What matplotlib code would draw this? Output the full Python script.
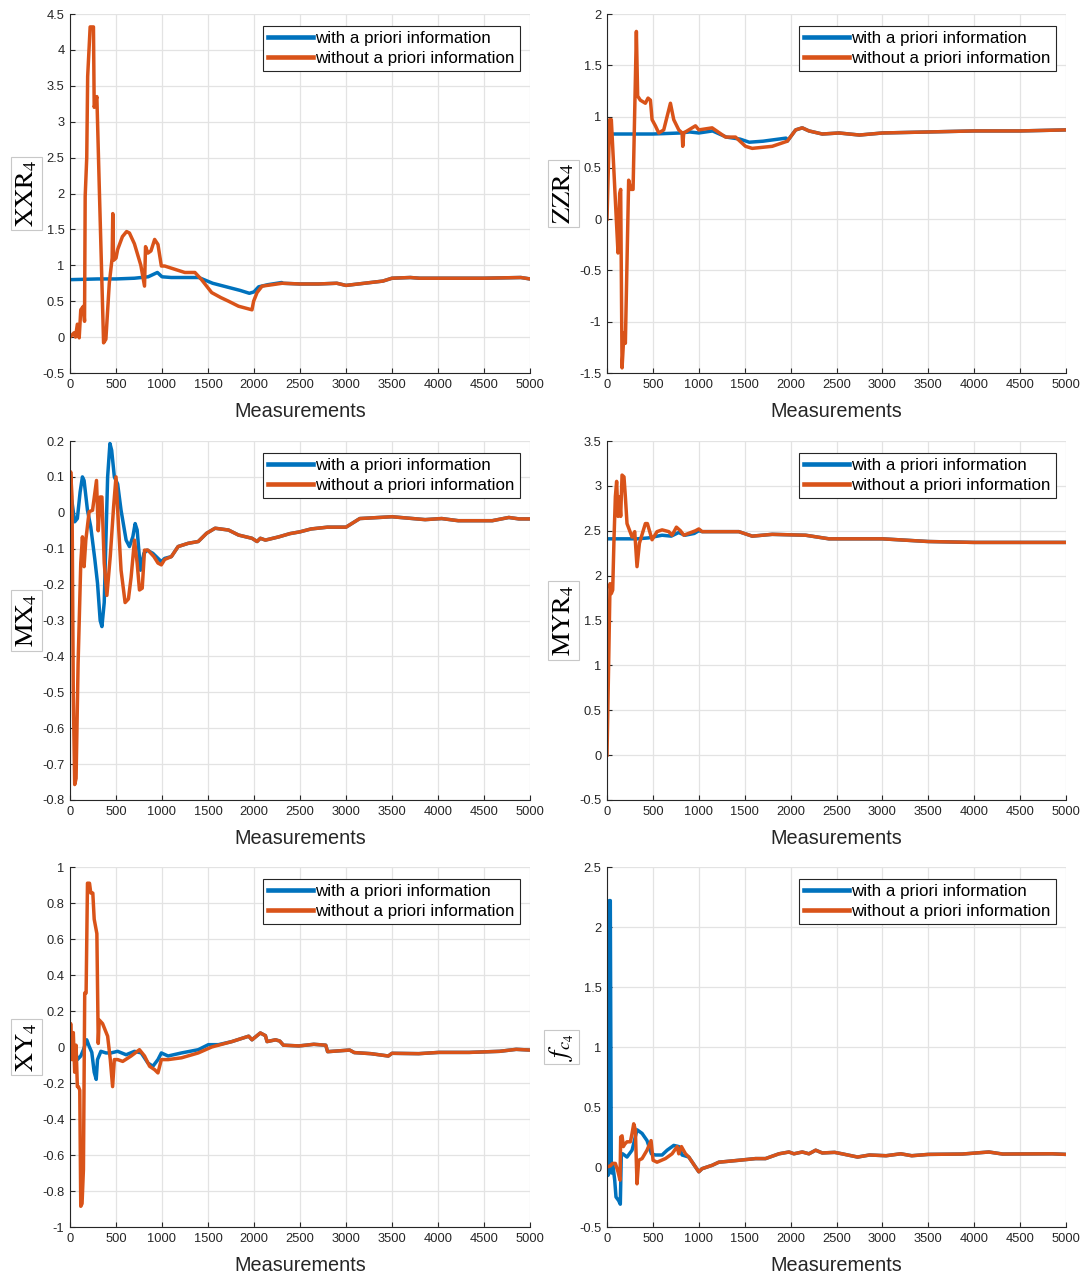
import matplotlib
matplotlib.use("Agg")
import matplotlib.pyplot as plt
from matplotlib.ticker import FuncFormatter, MultipleLocator

# estimated parameters vs. number of measurements, with / without a priori information.
# the "with" lists hold only the part before both estimates converge; after that
# the two curves coincide and the "with" curve continues along the "without" one.

XXR_X_WITH = [0, 300, 500, 700, 850, 950, 1000, 1100, 1400, 1550, 1700, 1850, 1950, 2000, 2050,
              2150, 2300]
XXR_Y_WITH = [0.8, 0.81, 0.81, 0.82, 0.84, 0.9, 0.84, 0.83, 0.83, 0.75, 0.7, 0.65, 0.61, 0.63, 0.7,
              0.73, 0.76]
XXR_X_WITHOUT = [0, 44, 60, 80, 100, 117, 146, 158, 165, 182, 192, 219, 255, 263, 292, 318, 365, 390,
                 427, 458, 465, 474, 500, 518, 570, 615, 646, 700, 770, 810, 821, 847, 880, 920, 956,
                 993, 1029, 1150, 1248, 1358, 1430, 1540, 1640, 1723, 1832, 1978, 1996, 2033, 2088,
                 2200, 2307, 2500, 2700, 2900, 3000, 3200, 3400, 3500, 3700, 3800, 4000, 4500, 4900, 5000]
XXR_Y_WITHOUT = [0, 0.06, 0.0, 0.18, -0.01, 0.38, 0.43, 0.22, 1.96, 2.5, 3.63, 4.32, 4.32, 3.2, 3.35,
                 2.1, -0.08, -0.03, 0.75, 1.1, 1.72, 1.07, 1.1, 1.22, 1.4, 1.47, 1.45, 1.3, 1.0, 0.71,
                 1.26, 1.17, 1.2, 1.36, 1.29, 0.99, 0.99, 0.94, 0.9, 0.9, 0.8, 0.62, 0.55, 0.5, 0.43,
                 0.38, 0.5, 0.62, 0.71, 0.73, 0.75, 0.74, 0.74, 0.75, 0.72, 0.75, 0.78, 0.82, 0.83,
                 0.82, 0.82, 0.82, 0.83, 0.81]

ZZR_X_WITH = [0, 500, 800, 900, 1000, 1150, 1300, 1450, 1550, 1700, 1950]
ZZR_Y_WITH = [0.83, 0.83, 0.84, 0.85, 0.84, 0.86, 0.8, 0.78, 0.75, 0.76, 0.79]
ZZR_X_WITHOUT = [0, 29, 47, 73, 98, 120, 138, 149, 164, 185, 200, 236, 258, 284, 320, 334, 363, 418,
                 447, 473, 491, 527, 564, 618, 691, 727, 782, 818, 825, 836, 964, 1000, 1145, 1291,
                 1400, 1509, 1582, 1800, 1964, 2055, 2127, 2200, 2345, 2527, 2750, 3000, 3500, 4000,
                 4500, 5000]
ZZR_Y_WITHOUT = [0, 0.97, 0.97, 0.51, 0.06, -0.33, 0.25, 0.29, -1.45, -1.11, -1.21, 0.38, 0.29, 0.29,
                 1.83, 1.2, 1.16, 1.13, 1.18, 1.16, 0.97, 0.91, 0.84, 0.87, 1.13, 0.97, 0.87, 0.84,
                 0.71, 0.84, 0.91, 0.87, 0.89, 0.8, 0.8, 0.71, 0.69, 0.71, 0.76, 0.87, 0.89, 0.86,
                 0.83, 0.84, 0.82, 0.84, 0.85, 0.86, 0.86, 0.87]

MX_X_WITH = [0, 7, 22, 51, 80, 110, 135, 153, 190, 226, 270, 299, 328, 347, 372, 409, 434, 453, 482,
             518, 555, 610, 646, 683, 708, 730, 766, 803, 839, 901, 993, 1029]
MX_Y_WITH = [0.0, 0.05, 0.03, -0.025, -0.016, 0.058, 0.1, 0.09, 0.007, -0.04, -0.13, -0.196, -0.3,
             -0.317, -0.25, 0.1, 0.193, 0.174, 0.1, 0.08, 0.007, -0.076, -0.094, -0.067, -0.03,
             -0.048, -0.16, -0.113, -0.104, -0.113, -0.136, -0.127]
MX_X_WITHOUT = [0, 7, 22, 36, 51, 66, 88, 117, 135, 153, 172, 208, 245, 288, 307, 328, 347, 372, 401,
                438, 474, 500, 526, 555, 599, 635, 664, 701, 730, 755, 785, 810, 847, 912, 956, 993,
                1029, 1102, 1175, 1285, 1394, 1485, 1577, 1723, 1832, 1978, 2033, 2069, 2124, 2270,
                2390, 2500, 2620, 2800, 3000, 3150, 3500, 3860, 4040, 4220, 4590, 4770, 4880, 5000]
MX_Y_WITHOUT = [0, 0.114, 0.044, -0.51, -0.757, -0.74, -0.42, -0.14, -0.067, -0.15, -0.076, 0.003,
                0.007, 0.09, -0.05, 0.044, 0.044, -0.14, -0.23, -0.12, 0.017, 0.1, -0.03, -0.16,
                -0.25, -0.24, -0.18, -0.076, -0.14, -0.215, -0.21, -0.104, -0.104, -0.122, -0.14,
                -0.145, -0.13, -0.122, -0.094, -0.085, -0.08, -0.057, -0.043, -0.048, -0.062, -0.071,
                -0.08, -0.071, -0.076, -0.067, -0.058, -0.053, -0.045, -0.04, -0.04, -0.016, -0.011,
                -0.019, -0.016, -0.022, -0.022, -0.013, -0.017, -0.017]

MYR_X_WITH = [0, 330, 450, 600, 700, 780, 850, 950, 1000]
MYR_Y_WITH = [2.41, 2.41, 2.42, 2.45, 2.44, 2.48, 2.45, 2.47, 2.5]
MYR_X_WITHOUT = [0, 18, 33, 47, 62, 76, 91, 105, 120, 135, 149, 164, 185, 200, 218, 273, 302, 327,
                 353, 418, 440, 491, 545, 600, 673, 709, 756, 800, 836, 964, 1000, 1036, 1436, 1582,
                 1800, 2164, 2418, 3000, 3500, 4000, 5000]
MYR_Y_WITHOUT = [0, 1.02, 1.91, 1.8, 1.84, 2.4, 2.88, 3.05, 2.66, 2.88, 2.66, 3.12, 3.1, 2.88, 2.58,
                 2.43, 2.49, 2.1, 2.36, 2.58, 2.58, 2.4, 2.49, 2.51, 2.49, 2.45, 2.54, 2.5, 2.45, 2.5,
                 2.52, 2.49, 2.49, 2.44, 2.46, 2.45, 2.41, 2.41, 2.38, 2.37, 2.37]

XY_X_WITH = [0, 26, 62, 80, 117, 146, 182, 208, 237, 263, 285, 299, 336, 391, 445, 518, 610, 701, 774,
             847, 901, 956, 993, 1066, 1212, 1394, 1504, 1613, 1759]
XY_Y_WITH = [0, -0.05, -0.03, -0.07, -0.05, -0.015, 0.04, 0.004, -0.03, -0.14, -0.18, -0.07, -0.024,
             -0.033, -0.033, -0.024, -0.043, -0.024, -0.033, -0.089, -0.107, -0.07, -0.033, -0.05,
             -0.033, -0.015, 0.013, 0.013, 0.03]
XY_X_WITHOUT = [0, 7, 22, 36, 51, 66, 80, 91, 106, 117, 131, 146, 160, 175, 190, 212, 226, 248, 263,
                292, 307, 318, 354, 409, 438, 463, 482, 518, 573, 664, 755, 810, 865, 920, 956, 993,
                1066, 1212, 1394, 1540, 1759, 1942, 1978, 2069, 2124, 2142, 2234, 2280, 2320, 2489,
                2650, 2780, 2800, 3040, 3090, 3270, 3460, 3500, 3790, 4010, 4340, 4670, 4850, 5000]
XY_Y_WITHOUT = [0.004, 0.13, -0.07, 0.08, -0.14, 0.01, -0.22, -0.22, -0.24, -0.885, -0.87, -0.68,
                0.3, 0.3, 0.91, 0.91, 0.855, 0.855, 0.71, 0.63, 0.02, 0.15, 0.13, 0.06, -0.07, -0.22,
                -0.07, -0.07, -0.08, -0.05, -0.015, -0.05, -0.107, -0.126, -0.144, -0.07, -0.07,
                -0.06, -0.033, 0, 0.03, 0.06, 0.04, 0.078, 0.063, 0.03, 0.04, 0.033, 0.01, 0.006,
                0.015, 0.01, -0.026, -0.017, -0.031, -0.037, -0.05, -0.035, -0.037, -0.03, -0.03,
                -0.024, -0.013, -0.017]

FC_X_WITH = [0, 11, 25, 36, 47, 62, 84, 98, 127, 145, 156, 171, 218, 273, 327, 382, 436, 484, 527,
             600, 655, 727, 782, 818, 891, 1000]
FC_Y_WITH = [0.03, -0.07, 2.22, 2.22, -0.05, 0.03, -0.11, -0.25, -0.28, -0.31, 0.11, 0.11, 0.083,
             0.14, 0.31, 0.28, 0.22, 0.11, 0.1, 0.1, 0.14, 0.18, 0.17, 0.1, 0.083, -0.04]
FC_X_WITHOUT = [0, 36, 62, 91, 120, 142, 149, 164, 178, 193, 218, 255, 273, 291, 309, 327, 345, 382,
                436, 480, 502, 545, 636, 709, 764, 782, 811, 855, 891, 964, 1000, 1036, 1145, 1218,
                1436, 1618, 1727, 1873, 1982, 2036, 2127, 2200, 2273, 2345, 2480, 2560, 2730, 2860,
                3040, 3200, 3320, 3500, 3870, 4160, 4310, 4850, 5000]
FC_Y_WITHOUT = [0, 0.01, 0.03, 0.03, -0.04, -0.11, 0.25, 0.26, 0.17, 0.19, 0.21, 0.21, 0.28, 0.36,
                0.31, -0.14, 0.056, 0.07, 0.14, 0.22, 0.056, 0.04, 0.07, 0.11, 0.17, 0.11, 0.17, 0.11,
                0.083, 0, -0.04, -0.014, 0.014, 0.04, 0.056, 0.07, 0.07, 0.11, 0.125, 0.11, 0.125,
                0.11, 0.14, 0.117, 0.122, 0.11, 0.083, 0.1, 0.094, 0.11, 0.094, 0.105, 0.108, 0.125,
                0.108, 0.11, 0.105]

LABELS = ["with a priori information", "without a priori information"]
BLUE = "#0072BD"
ORANGE = "#D95319"
TXT = "#262626"

# (ylabel, ylim, ystep, with-series, without-series) per panel, row-major
panels = [
    (r"$\mathrm{XXR}_4$", (-0.5, 4.5), 0.5, (XXR_X_WITH, XXR_Y_WITH), (XXR_X_WITHOUT, XXR_Y_WITHOUT)),
    (r"$\mathrm{ZZR}_4$", (-1.5, 2.0), 0.5, (ZZR_X_WITH, ZZR_Y_WITH), (ZZR_X_WITHOUT, ZZR_Y_WITHOUT)),
    (r"$\mathrm{MX}_4$", (-0.8, 0.2), 0.1, (MX_X_WITH, MX_Y_WITH), (MX_X_WITHOUT, MX_Y_WITHOUT)),
    (r"$\mathrm{MYR}_4$", (-0.5, 3.5), 0.5, (MYR_X_WITH, MYR_Y_WITH), (MYR_X_WITHOUT, MYR_Y_WITHOUT)),
    (r"$\mathrm{XY}_4$", (-1.0, 1.0), 0.2, (XY_X_WITH, XY_Y_WITH), (XY_X_WITHOUT, XY_Y_WITHOUT)),
    (r"$f_{c_4}$", (-0.5, 2.5), 0.5, (FC_X_WITH, FC_Y_WITH), (FC_X_WITHOUT, FC_Y_WITHOUT)),
]

plt.rcParams["font.family"] = ["Liberation Sans", "DejaVu Sans"]
plt.rcParams["mathtext.fontset"] = "stix"

W, H = 1084, 1279
fig = plt.figure(figsize=(W / 100, H / 100), dpi=100)

col_x = [(70, 530), (607, 1066)]
row_y = [(14, 373), (441, 800), (867, 1227)]


def fmt(v, _pos):
    v = round(v, 6)
    if v == 0:
        return "0"
    return f"{v:g}"


def join_tail(head, tail):
    """Continue the head series along the tail series once they converge."""
    hx, hy = head
    tx, ty = tail
    last = hx[-1]
    keep = [k for k, x in enumerate(tx) if x > last]
    return list(hx) + [tx[k] for k in keep], list(hy) + [ty[k] for k in keep]


for i, (ylab, ylim, ystep, with_s, without_s) in enumerate(panels):
    r, c = divmod(i, 2)
    x0, x1 = col_x[c]
    y0, y1 = row_y[r]
    ax = fig.add_axes([x0 / W, 1 - y1 / H, (x1 - x0) / W, (y1 - y0) / H])

    ax.plot(*join_tail(with_s, without_s), color=BLUE, lw=2.5, label=LABELS[0],
            solid_joinstyle="round")
    ax.plot(*without_s, color=ORANGE, lw=2.5, label=LABELS[1], solid_joinstyle="round")

    ax.set_xlim(0, 5000)
    ax.set_ylim(*ylim)
    ax.xaxis.set_major_locator(MultipleLocator(500))
    ax.yaxis.set_major_locator(MultipleLocator(ystep))
    ax.yaxis.set_major_formatter(FuncFormatter(fmt))
    ax.grid(True, color="#e3e3e3", lw=0.9)
    ax.set_axisbelow(True)
    for side in ("top", "right"):
        ax.spines[side].set_visible(False)
    for side in ("left", "bottom"):
        ax.spines[side].set_color(TXT)
        ax.spines[side].set_linewidth(0.8)
    ax.tick_params(direction="in", length=3.5, width=0.8, colors=TXT, labelsize=9.3, pad=4)

    ax.set_xlabel("Measurements", fontsize=14.3, color=TXT, labelpad=8)
    ax.set_ylabel(ylab, fontsize=19, color="black", rotation=90,
                  bbox=dict(facecolor="white", edgecolor="#c8c8c8", linewidth=0.8, pad=2.5))
    ax.yaxis.set_label_coords(-31 / (x1 - x0), 0.5)

    leg = ax.legend(loc="upper right", bbox_to_anchor=(0.978, 0.967), borderaxespad=0,
                    fontsize=12.2, handlelength=2.65, handletextpad=0.15, borderpad=0.3,
                    labelspacing=0.3, fancybox=False, framealpha=1, edgecolor=TXT)
    leg.get_frame().set_linewidth(0.8)
    for line in leg.get_lines():
        line.set_linewidth(3.3)

fig.savefig("out.png", dpi=100)
